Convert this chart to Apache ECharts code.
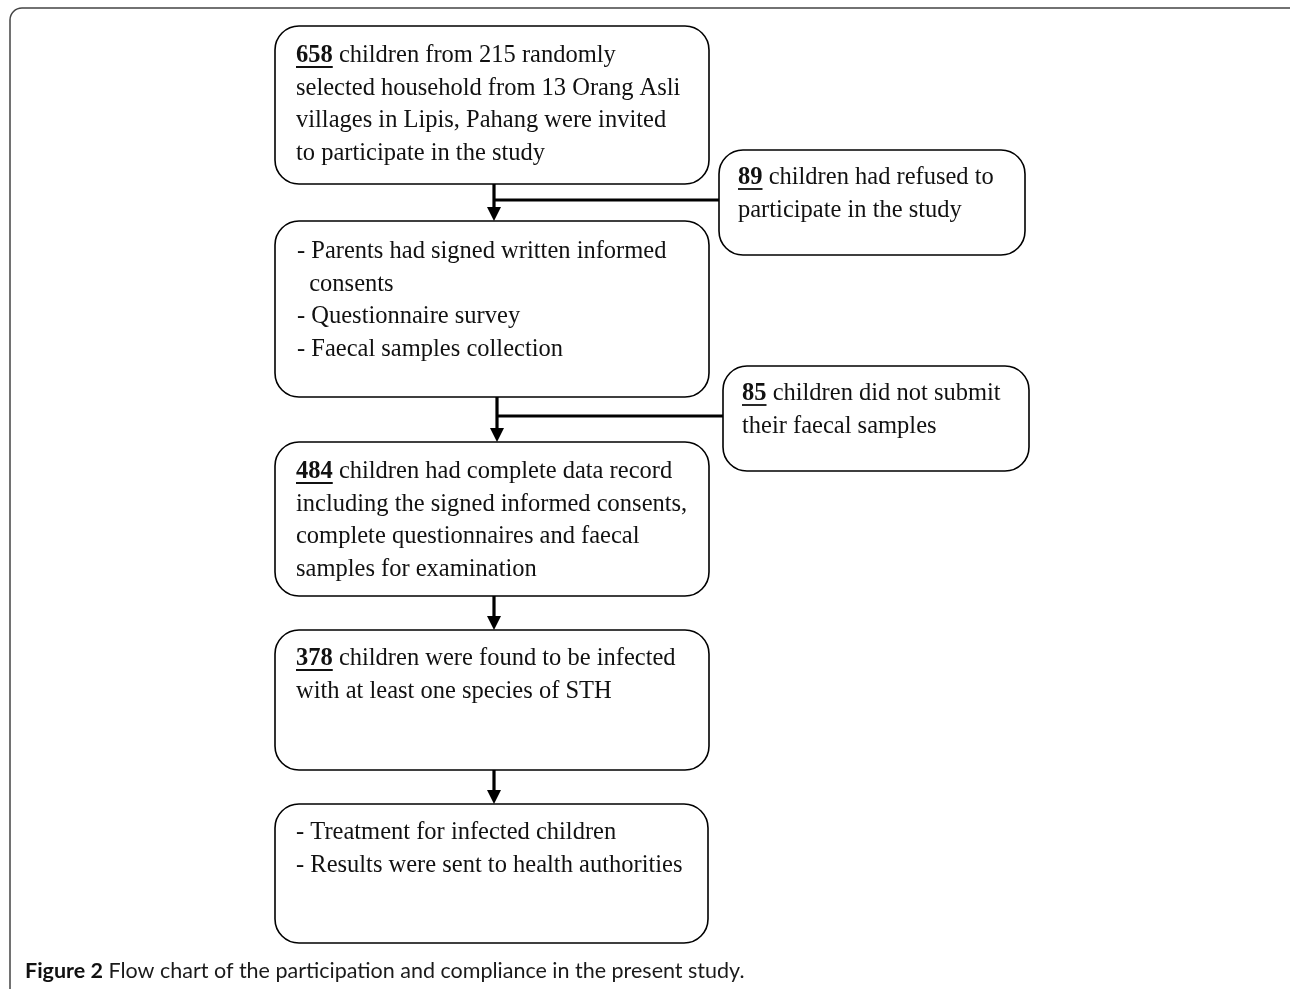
<!DOCTYPE html>
<html><head><meta charset="utf-8">
<script src="https://cdn.jsdelivr.net/npm/echarts@6/dist/echarts.min.js"></script>
<style>html,body{margin:0;padding:0;background:#fff;}#c{width:1290px;height:989px;}</style>
</head><body><div id="c"></div>
<script>
// ---- data ----
const counts = [658, 89, 85, 484, 378];
const mainBoxText = [
  ['{n|658} children from 215 randomly', 'selected household from 13 Orang Asli', 'villages in Lipis, Pahang were invited', 'to participate in the study'],
  ['- Parents had signed written informed', '  consents', '- Questionnaire survey', '- Faecal samples collection'],
  ['{n|484} children had complete data record', 'including the signed informed consents,', 'complete questionnaires and faecal', 'samples for examination'],
  ['{n|378} children were found to be infected', 'with at least one species of STH'],
  ['- Treatment for infected children', '- Results were sent to health authorities']
];
const sideBoxText = [
  ['{n|89} children had refused to', 'participate in the study'],
  ['{n|85} children did not submit', 'their faecal samples']
];
const captionBold = 'Figure 2';
const captionText = ' Flow chart of the participation and compliance in the present study.';

// ---- layout ----
const FS = 24.5, LH = 32.5;
const serif = '"Liberation Serif", "Times New Roman", serif';
const mainBoxes = [
  {x:275, y:26, w:434, h:158, tx:296, ty:56},
  {x:275, y:221, w:434, h:176, tx:297, ty:252},
  {x:275, y:442, w:434, h:154, tx:296, ty:472},
  {x:275, y:630, w:434, h:140, tx:296, ty:659},
  {x:275, y:804, w:433, h:139, tx:296, ty:833}
];
const sideBoxes = [
  {x:719, y:150, w:306, h:105, tx:738, ty:178},
  {x:723, y:366, w:306, h:105, tx:742, ty:394}
];
const vArrows = [
  {x:494, y1:184, y2:221, branchY:200, branchX:719},
  {x:497, y1:397, y2:442, branchY:416, branchX:723},
  {x:494, y1:596, y2:630},
  {x:494, y1:770, y2:804}
];

const cv = document.createElement('canvas').getContext('2d');
cv.font = 'bold ' + FS + 'px ' + serif;

const g = [];
// outer frame
g.push({type:'rect', shape:{x:10, y:8, width:1300, height:1010, r:12},
  style:{fill:'none', stroke:'#444', lineWidth:1.5}});

function addBox(b, lines, num) {
  g.push({type:'rect', shape:{x:b.x, y:b.y, width:b.w, height:b.h, r:24},
    style:{fill:'#fff', stroke:'#000', lineWidth:1.6}});
  lines.forEach((ln, i) => {
    g.push({type:'text', x:b.tx, y:b.ty + i*LH, style:{
      text: ln, font: FS + 'px ' + serif, fill:'#111',
      verticalAlign:'middle', align:'left',
      rich:{n:{fontWeight:'bold', fontSize:FS, fontFamily:serif, fill:'#111'}}
    }});
  });
  if (num != null) {
    const w = cv.measureText(String(num)).width;
    g.push({type:'line', shape:{x1:b.tx, y1:b.ty+11, x2:b.tx+w, y2:b.ty+11},
      style:{stroke:'#111', lineWidth:1.8}});
  }
}
mainBoxes.forEach((b, i) => {
  const num = [counts[0], null, counts[3], counts[4], null][i];
  addBox(b, mainBoxText[i], num);
});
sideBoxes.forEach((b, i) => addBox(b, sideBoxText[i], counts[i+1]));

vArrows.forEach(a => {
  g.push({type:'line', shape:{x1:a.x, y1:a.y1, x2:a.x, y2:a.y2-12}, style:{stroke:'#000', lineWidth:3.2}});
  g.push({type:'polygon', shape:{points:[[a.x-7, a.y2-14],[a.x+7, a.y2-14],[a.x, a.y2]]}, style:{fill:'#000'}});
  if (a.branchY) {
    g.push({type:'line', shape:{x1:a.x, y1:a.branchY, x2:a.branchX, y2:a.branchY}, style:{stroke:'#000', lineWidth:3}});
  }
});

// caption
g.push({type:'text', x:25, y:971, style:{
  text:'{b|' + captionBold + '}{r|' + captionText + '}', verticalAlign:'middle',
  rich:{
    b:{fontFamily:'Lato, "Open Sans", sans-serif', fontWeight:'bold', fontSize:21.5, fill:'#111'},
    r:{fontFamily:'Lato, "Open Sans", sans-serif', fontWeight:'normal', fontSize:21.5, fill:'#1a1a1a'}
  }}});

const chart = echarts.init(document.getElementById('c'), null, {renderer:'canvas'});
chart.setOption({animation:false, backgroundColor:'#fff', graphic:{elements:g}});
</script>
</body></html>
